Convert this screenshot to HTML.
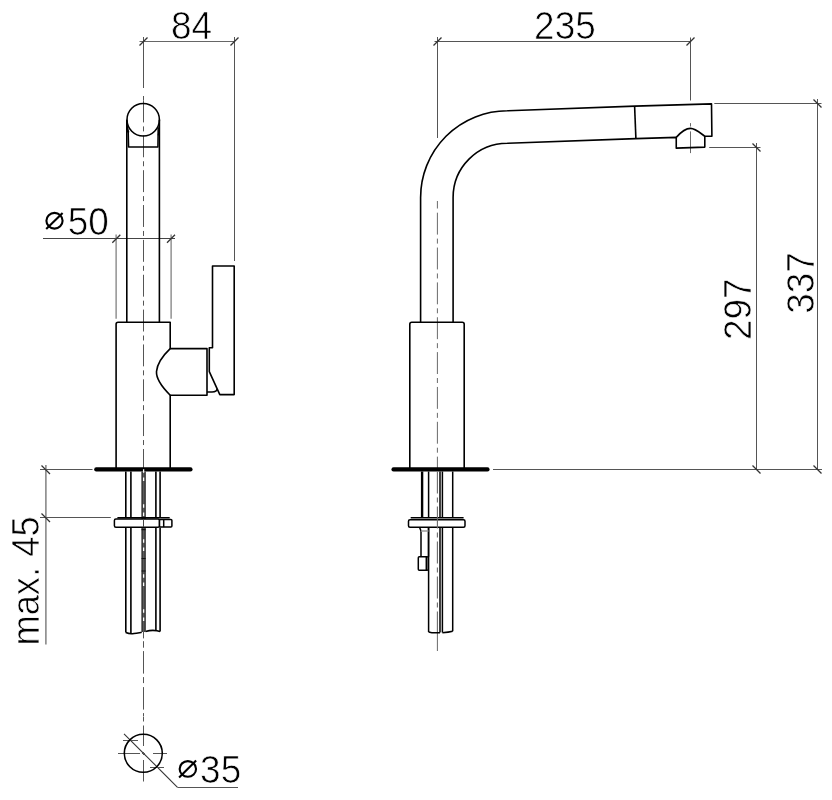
<!DOCTYPE html>
<html><head><meta charset="utf-8"><style>
html,body{margin:0;padding:0;background:#fff;width:832px;height:800px;overflow:hidden}
svg{display:block;will-change:transform}
</style></head><body>
<svg width="832" height="800" viewBox="0 0 832 800">
<rect width="832" height="800" fill="#fff"/>

<!-- ============ LEFT FIGURE: dimensions ============ -->
<g stroke="#555" stroke-width="1" fill="none">
  <!-- 84 -->
  <path d="M139.5 41.5H235" stroke="#666"/>
  <path d="M143.5 37V88"/>
  <path d="M234.5 37V261"/>
  <path d="M139.5 45.5L147.5 37.5M230.5 45.5L238.5 37.5" stroke="#333" stroke-width="1.3"/>
  <!-- 50 -->
  <path d="M43 238.5H175" stroke="#444"/>
  <path d="M116.1 234.5V318.7M171.1 234.5V318.7" stroke="#777" stroke-width="1.2"/>
  <path d="M112.3 242.7L120.3 234.7M167 242.7L175 234.7" stroke="#333" stroke-width="1.3"/>
  <!-- max 45 -->
  <path d="M40 469.5H92.5M40 517.5H110.8"/>
  <path d="M45.9 465V644.6" stroke="#777" stroke-width="1.4"/>
  <path d="M41.5 465.5L50 474M41.5 513.5L50 522" stroke="#333" stroke-width="1.3"/>
  <!-- 35 leader -->
  <path d="M124 733.8L177.5 787.3" stroke="#333" stroke-width="1.1"/><path d="M177.5 787.5H238"/>
  <path d="M123 740.5H138M150 767.5H164"/>
</g>

<!-- centerlines left -->
<g stroke="#555" stroke-width="1" fill="none">
  <path d="M143.5 96V100.5"/>
  <path d="M143.5 100.5V469" stroke-dasharray="21.9 4 5 3.95"/>
  <path d="M143.5 632V638.4M143.5 641.2V647.7"/>
  <path d="M143.5 651.1V716" stroke-dasharray="22.5 3.5 6 4"/>
  <path d="M143.5 716.5V721.5M143.5 725.5V746M143.5 752V755M143.5 760V781.5"/>
  <path d="M118 753.5H140M142 753.5H145M153 753.5H167"/>
</g>

<!-- faucet left outlines -->
<g stroke="#000" stroke-width="1.6" fill="none" stroke-linejoin="round">
  <circle cx="143.2" cy="119.75" r="16.2"/>
  <path d="M126.8 119.75V322M159.4 119.75V322"/>
  <path d="M128.2 131L128.6 147.1H157.9L158.2 127.2" stroke-width="1.5"/>
  <path d="M116.1 469V324.3Q116.1 322.3 118.1 322.3H170.2V348.6H207V395.2H170.2V469"/>
  <path d="M170.2 348.6C164 354.5 157.2 363.5 156.5 371.5C156 379.5 163 388 170.2 395.2"/>
  <path d="M212.5 347.8V266H234.2V394.6H219.8L209.3 371.6V347.8Z"/>
  <path d="M207 391.9H212C215 391.9 217 391 217 389" stroke-width="1.5"/>
  <circle cx="143.3" cy="753.3" r="19"/>
</g>
<path d="M126.8 121V132.5L129.4 132.3C128.3 128 127.5 125 126.8 121Z" fill="#000"/>
<path d="M159.4 123V135.5L157.6 135.3C158.6 131 159.1 127 159.4 123Z" fill="#000"/>

<!-- base plate left -->
<path d="M96.25 469.4H190.5" stroke="#000" stroke-width="4.2" stroke-linecap="round"/>

<!-- rods left -->
<g stroke="#000" stroke-width="1.6" fill="none">
  <path d="M125.8 471.5V517.5M130.9 471.5V517.5M155.9 471.5V517.5M160.1 471.5V517.5"/>
  <path d="M125.8 527.5V632.5M130.9 527.5V633.5M155.9 527.5V631M160.1 527.5V631.5"/>
  <path d="M125.8 632.5C128 633.5 131 634 134 633.5C138 632.8 141 632.5 141.7 632.3M145.5 631.5C149 630.5 153 630 157 630.8L160.1 631.5"/>
</g>
<rect x="141.6" y="471.5" width="4" height="160.5" fill="#5c5c5c"/>
<path d="M142.1 471.5V632M145.1 471.5V632" stroke="#222" stroke-width="1"/>
<path d="M143.6 469.2V632" stroke="#fff" stroke-width="1.3" stroke-dasharray="3.6 4.7 3.6 23.1"/>
<path d="M141.6 529.6H145.6M141.6 558.5H145.6M141.6 571H145.6" stroke="#111" stroke-width="1.2"/>

<!-- washer left -->
<g stroke="#000" stroke-width="1.5" fill="#fff">
  <path d="M117.4 517.7H169.7"/>
  <rect x="114.4" y="518.9" width="45.1" height="8.4" rx="1.5"/>
  <rect x="159.5" y="519.5" width="12.4" height="7.6" rx="1"/>
  <path d="M163.7 519.5V527.1"/>
</g>
<path d="M143.5 519V527" stroke="#444" stroke-width="1"/>

<!-- ============ RIGHT FIGURE ============ -->
<g stroke="#555" stroke-width="1" fill="none">
  <path d="M434.5 41.5H691"/>
  <path d="M437.5 37V138M690.5 37.5V100.5"/>
  <path d="M433.5 45.5L441.5 37.5M686.5 45.5L694.5 37.5" stroke="#333" stroke-width="1.3"/>
  <path d="M493 469.5H822M709.2 147.5H760.5M714.3 103.5H821.5"/>
  <path d="M756.5 143V469.5M817.5 99V469.5"/>
  <path d="M752.5 143.5L760.5 151.5M813.5 99.5L821.5 107.5M752.5 465.5L760.5 473.5M813.5 465.5L821.5 473.5" stroke="#333" stroke-width="1.3"/>
</g>
<g stroke="#6a6a6a" stroke-width="1" fill="none">
  <path d="M437.4 201V208.5"/>
  <path d="M437.4 212.7V469" stroke-dasharray="21.9 4 5 3.95"/>
  <path d="M437.4 632V651"/>
  <path d="M690.5 123.1V126.5M690.5 131.4V153.1"/>
</g>

<g stroke="#000" stroke-width="1.6" fill="none" stroke-linejoin="round">
  <path d="M420.6 322V197.5A86.7 86.7 0 0 1 507.3 110.8L635 106.1L711.5 103.85L711.9 136.3H704.8V147.1L676.25 148.1V137.4L635.9 138.65L507.3 143.3A54.2 54.2 0 0 0 453.1 197.5V322"/>
  <path d="M634.6 106.1L635.9 138.65"/>
  <path d="M676.25 137.4C681 132 685 128.4 690.5 128.4C695 128.4 699 132 704.8 136.3"/>
  <path d="M409.8 469V324.3Q409.8 322.3 411.8 322.3H462.2Q464.2 322.3 464.2 324.3V469"/>
</g>
<path d="M393.5 469.4H487.5" stroke="#000" stroke-width="4.2" stroke-linecap="round"/>

<g stroke="#000" stroke-width="1.5" fill="none">
  <path d="M422.1 471.5V517.7" stroke-width="2.4"/>
  <path d="M428.6 471.5V517.7M440 471.5V517.7M442.4 471.5V517.7M452.7 471.5V517.7"/>
  <path d="M428.6 527.5V632M440 527.5V632.5M442.4 527.5V632.5M452.7 527.5V631.3"/>
  <path d="M428.6 632C432 633 436 633 440 632.7M442.4 632.7C446 632.5 450 632 452.7 631.3"/>
  <path d="M410.7 517.7H463.6"/>
  <rect x="408.5" y="519.7" width="56.5" height="7.6" rx="1.5" fill="#fff"/>
  <path d="M419.5 527.3L421 531V556.8M428.5 527.3V556.8"/>
  <path d="M421 531H428.5" stroke="#999"/>
  <rect x="418.3" y="556.8" width="9.9" height="13.5" rx="1"/>
  <path d="M426.3 556.8V570.3"/>
</g>
<path d="M437.4 471.5V632" stroke="#6a6a6a" stroke-width="1.1" stroke-dasharray="22 4 5 4"/>

<!-- ============ TEXT ============ -->
<g stroke="#000" stroke-width="2.1" fill="none">
  <ellipse cx="54.5" cy="220.75" rx="8.1" ry="7.85"/>
  <path d="M46.2 229L62.6 213.1"/>
  <ellipse cx="187.85" cy="768.9" rx="8.2" ry="7.8"/>
  <path d="M179.1 777.4L196.1 760.6"/>
</g>
<g font-family="Liberation Sans" font-size="39.7" fill="#000" stroke="#fff" stroke-width="0.7">
  <text transform="translate(171 38.9) scale(0.93 1)">84</text>
  <text transform="translate(534.1 38.9) scale(0.93 1)">235</text>
  <text transform="translate(67.8 234.7) scale(0.93 1)">50</text>
  <text transform="translate(200.1 782.7) scale(0.93 1)">35</text>
  <text transform="translate(38.8 645.6) rotate(-90) scale(0.915 1)">max. 45</text>
  <text transform="translate(750.8 340.1) rotate(-90) scale(0.93 1)">297</text>
  <text transform="translate(814.3 313.7) rotate(-90) scale(0.93 1)">337</text>
</g>
</svg>
</body></html>
